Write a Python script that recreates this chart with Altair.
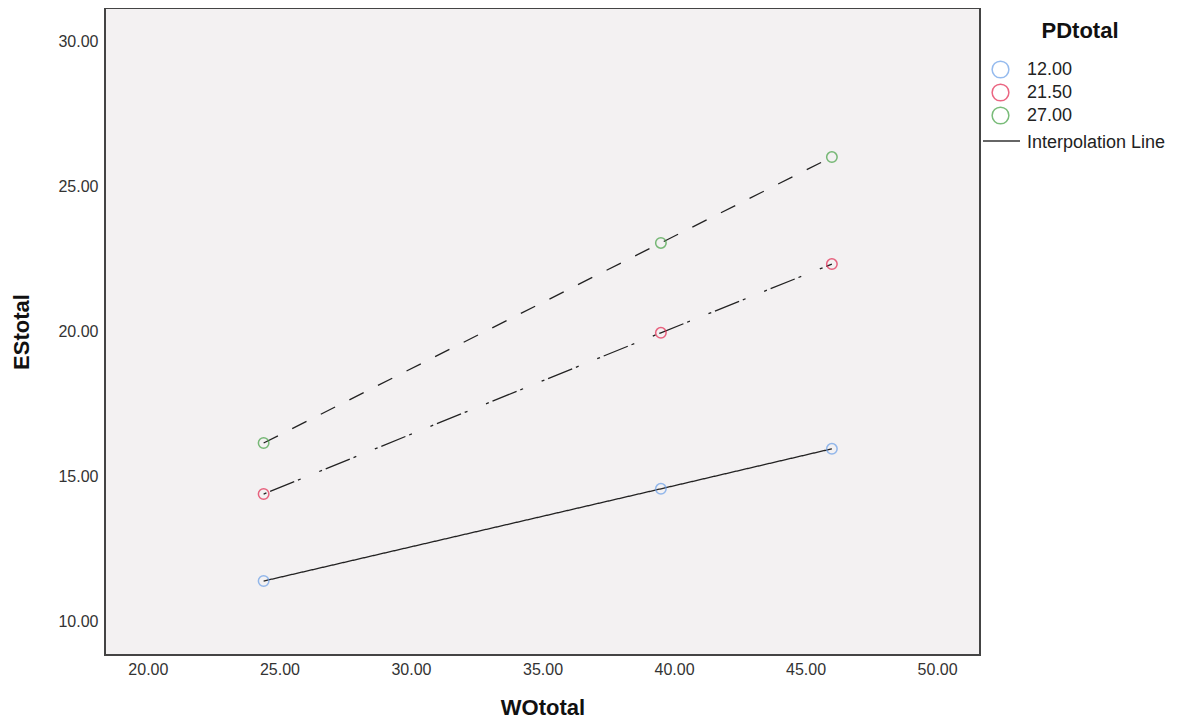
import altair as alt
import pandas as pd

# ---- data ----
wo_values = [24.4, 39.5, 46.0]
pd_groups = ["12.00", "21.50", "27.00"]
es_12 = [11.41, 14.59, 15.97]
es_215 = [14.41, 19.97, 22.34]
es_27 = [16.17, 23.07, 26.03]

x_ticks = [20, 25, 30, 35, 40, 45, 50]
y_ticks = [10, 15, 20, 25, 30]

colors = ["#6A9FE8", "#E3264E", "#42A042"]
dashes = [[1, 0], [3, 4, 26, 4, 3, 20], [16, 16]]

rows = []
for g, ys in zip(pd_groups, [es_12, es_215, es_27]):
    for x, y in zip(wo_values, ys):
        rows.append({"WOtotal": x, "EStotal": y, "PDtotal": g, "line": "L" + g})
df = pd.DataFrame(rows)
line_domain = ["L" + g for g in pd_groups]

FONT = "Liberation Sans"

xscale = alt.Scale(domain=[18.37, 51.63], nice=False, zero=False)
yscale = alt.Scale(domain=[8.86, 31.17], nice=False, zero=False)

xaxis = alt.Axis(values=x_ticks, format=".2f", grid=False, ticks=False, domain=False,
                 labelFont=FONT, labelFontSize=16, labelColor="#333333", labelPadding=6,
                 title="WOtotal", titleFont=FONT, titleFontSize=22, titleFontWeight="bold",
                 titleColor="#111111", titlePadding=20)
yaxis = alt.Axis(values=y_ticks, format=".2f", grid=False, ticks=False, domain=False,
                 labelFont=FONT, labelFontSize=16, labelColor="#333333", labelPadding=7,
                 title="EStotal", titleFont=FONT, titleFontSize=22, titleFontWeight="bold",
                 titleColor="#111111", titlePadding=24)

base = alt.Chart(df)

lines = base.mark_line(color="#222222", strokeWidth=1.3).encode(
    x=alt.X("WOtotal:Q", scale=xscale, axis=xaxis),
    y=alt.Y("EStotal:Q", scale=yscale, axis=yaxis),
    strokeDash=alt.StrokeDash("line:N", scale=alt.Scale(domain=line_domain, range=dashes), legend=None),
    detail="line:N",
)

points = base.mark_point(shape="circle", filled=False, size=110, strokeWidth=1.5).encode(
    x=alt.X("WOtotal:Q", scale=xscale),
    y=alt.Y("EStotal:Q", scale=yscale),
    color=alt.Color("PDtotal:N", scale=alt.Scale(domain=pd_groups, range=colors),
                    legend=alt.Legend(title=None, orient="none", legendX=886, legendY=52,
                                      symbolType="circle", symbolSize=280, symbolStrokeWidth=1.5,
                                      symbolFillColor="transparent",
                                      labelFont=FONT, labelFontSize=18, labelColor="#222222",
                                      labelOffset=17, rowPadding=0, padding=0)),
)

legend_title = alt.Chart(pd.DataFrame({"t": ["PDtotal"]})).mark_text(
    font=FONT, fontSize=22, fontWeight="bold", color="#111111", align="center", baseline="middle"
).encode(text="t:N", x=alt.value(975), y=alt.value(23))

interp_rule = alt.Chart(pd.DataFrame({"t": ["Interpolation Line"]})).mark_rule(
    color="#333333", strokeWidth=1.5
).encode(x=alt.value(878), x2=alt.value(915), y=alt.value(133))

interp_text = alt.Chart(pd.DataFrame({"t": ["Interpolation Line"]})).mark_text(
    font=FONT, fontSize=18, color="#222222", align="left", baseline="middle"
).encode(text="t:N", x=alt.value(922), y=alt.value(134.5))

chart = alt.layer(lines, points, legend_title, interp_rule, interp_text).properties(
    width=875, height=647,
    autosize=alt.AutoSizeParams(type="none"),
    padding={"left": 97, "top": 0, "right": 195, "bottom": 63},
    background="white",
).configure_view(
    fill="#F3F1F2", stroke="#444444", strokeWidth=2
)

chart.save("out.html", embed_options={"renderer": "svg", "actions": False})
